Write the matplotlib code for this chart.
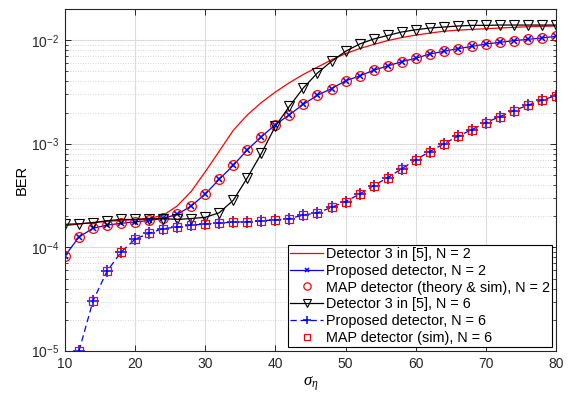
import numpy as np
import matplotlib
matplotlib.use('Agg')
import matplotlib.pyplot as plt
from matplotlib.ticker import LogLocator, FixedLocator, NullFormatter

plt.rcParams['font.family'] = ['Liberation Sans', 'DejaVu Sans']
plt.rcParams['mathtext.fontset'] = 'custom'
plt.rcParams['mathtext.rm'] = 'Liberation Sans'
plt.rcParams['mathtext.it'] = 'Liberation Serif:italic'

# sigma_eta grid (x axis)
sigma = np.arange(10, 82, 2)
sigma6 = np.arange(12, 82, 2)

# Detector 3 in [5], N = 2 (theory curve)
det3_n2 = [1.62e-4, 1.68e-4, 1.74e-4, 1.78e-4, 1.82e-4, 1.86e-4, 1.91e-4, 2.04e-4,
           2.51e-4, 3.47e-4, 5.37e-4, 8.5e-4, 1.35e-3, 1.9e-3, 2.5e-3, 3.16e-3,
           3.89e-3, 4.68e-3, 5.5e-3, 6.46e-3, 7.41e-3, 8.3e-3, 9.1e-3, 9.9e-3,
           1.06e-2, 1.12e-2, 1.17e-2, 1.22e-2, 1.25e-2, 1.27e-2, 1.29e-2, 1.31e-2,
           1.33e-2, 1.35e-2, 1.36e-2, 1.37e-2]

# Proposed detector, N = 2  (MAP theory & sim coincide)
prop_n2 = [8.3e-5, 1.26e-4, 1.53e-4, 1.64e-4, 1.71e-4, 1.76e-4, 1.82e-4, 1.91e-4,
           2.08e-4, 2.51e-4, 3.27e-4, 4.55e-4, 6.2e-4, 8.75e-4, 1.17e-3, 1.53e-3,
           1.91e-3, 2.41e-3, 2.94e-3, 3.41e-3, 4.05e-3, 4.52e-3, 5.12e-3, 5.64e-3,
           6.2e-3, 6.68e-3, 7.36e-3, 7.8e-3, 8.28e-3, 8.71e-3, 9.19e-3, 9.53e-3,
           9.89e-3, 1.02e-2, 1.05e-2, 1.09e-2]
map_n2 = prop_n2

# Detector 3 in [5], N = 6
det3_n6 = [1.67e-4, 1.69e-4, 1.73e-4, 1.81e-4, 1.86e-4, 1.86e-4, 1.88e-4, 1.9e-4,
           1.86e-4, 1.9e-4, 1.95e-4, 2.16e-4, 2.85e-4, 4.7e-4, 8.07e-4, 1.48e-3,
           2.3e-3, 3.47e-3, 4.83e-3, 6.25e-3, 7.8e-3, 9.18e-3, 1.026e-2, 1.11e-2,
           1.2e-2, 1.26e-2, 1.31e-2, 1.34e-2, 1.37e-2, 1.39e-2, 1.39e-2, 1.4e-2,
           1.4e-2, 1.4e-2, 1.4e-2, 1.4e-2]

# Proposed detector, N = 6 (from sigma = 12)
prop_n6 = [1.0e-5, 3.05e-5, 5.9e-5, 9.0e-5, 1.2e-4, 1.37e-4, 1.52e-4, 1.57e-4,
           1.64e-4, 1.68e-4, 1.72e-4, 1.75e-4, 1.77e-4, 1.81e-4, 1.84e-4, 1.9e-4,
           2.05e-4, 2.16e-4, 2.43e-4, 2.77e-4, 3.27e-4, 3.94e-4, 4.7e-4, 5.74e-4,
           7.0e-4, 8.4e-4, 1.0e-3, 1.18e-3, 1.37e-3, 1.6e-3, 1.83e-3, 2.09e-3,
           2.36e-3, 2.63e-3, 2.92e-3]
map_n6 = prop_n6

fig = plt.figure(figsize=(5.74, 3.98), dpi=100)
ax = fig.add_axes([0.1132, 0.1181, 0.8554, 0.8593])

ax.plot(sigma, det3_n2, color='red', lw=0.9, label='Detector 3 in [5], N = 2')
ax.plot(sigma, prop_n2, color='blue', lw=0.9, marker='x', ms=4.5, mew=1.1,
        label='Proposed detector, N = 2')
ax.plot(sigma, map_n2, ls='none', marker='o', ms=7, mfc='none', mec='red', mew=0.9,
        label='MAP detector (theory & sim), N = 2')
ax.plot(sigma, det3_n6, color='black', lw=0.9, marker='v', ms=7.5, mfc='none',
        mec='black', mew=0.8, label='Detector 3 in [5], N = 6')
ax.plot(sigma6, prop_n6, color='blue', lw=0.9, ls=(0, (5, 3)), marker='+', ms=8,
        mew=1.1, label='Proposed detector, N = 6')
ax.plot(sigma6, map_n6, ls='none', marker='s', ms=5.5, mfc='none', mec='red', mew=0.9,
        label='MAP detector (sim), N = 6')

ax.set_yscale('log')
ax.set_xlim(10, 80)
ax.set_ylim(1e-5, 2e-2)
ax.set_xticks(range(10, 81, 10))
ax.yaxis.set_major_locator(FixedLocator([1e-5, 1e-4, 1e-3, 1e-2]))
ax.set_yticklabels(['$10^{-5}$', '$10^{-4}$', '$10^{-3}$', '$10^{-2}$'])
ax.yaxis.set_minor_locator(LogLocator(base=10, subs=np.arange(2, 10)))
ax.yaxis.set_minor_formatter(NullFormatter())

ax.grid(True, which='major', color='#dcdcdc', lw=0.8)
ax.grid(True, which='minor', axis='y', color='#c8c8c8', lw=0.6, ls=(0, (1, 2)))
ax.set_axisbelow(True)

ax.tick_params(which='both', direction='in', top=True, right=True,
               labelsize=10, colors='#262626', pad=4)
ax.tick_params(which='major', length=4, width=0.7)
ax.tick_params(which='minor', length=2, width=0.6)
for s in ax.spines.values():
    s.set_color('#262626')
    s.set_linewidth(0.8)

ax.set_xlabel(r'$\sigma_\eta$', fontsize=12, labelpad=3)
ax.set_ylabel('BER', fontsize=10.5, labelpad=2)

leg = ax.legend(loc='lower right', fontsize=10.4, frameon=True, fancybox=False,
                edgecolor='black', framealpha=1, borderpad=0.15, labelspacing=0.2,
                handlelength=2.3, handletextpad=0.2, borderaxespad=0.25,
                markerscale=0.75)
leg.get_frame().set_linewidth(0.8)

fig.savefig('out.png', dpi=100)
